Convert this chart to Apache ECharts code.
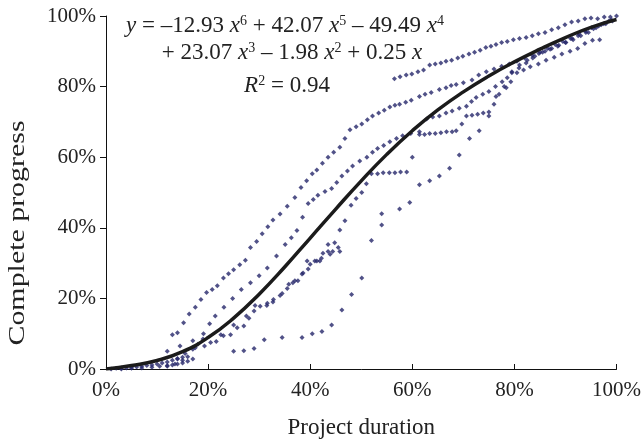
<!DOCTYPE html>
<html>
<head>
<meta charset="utf-8">
<script src="https://cdn.jsdelivr.net/npm/echarts@6/dist/echarts.min.js"></script>
<style>
  html, body { margin: 0; padding: 0; background: #fff; }
  #main { width: 644px; height: 444px; }
</style>
</head>
<body>
<div id="main"></div>
<script>
// 各项目的进度点 (x: 工期 %, y: 完成进度 %)
var projA = [[13,9.7],[14,10.3],[15.2,13.1],[16.3,15.6],[17.5,17.5],[18.6,19.7],[19.7,21.7],[20.8,22.5],[21.8,23.6],[23,25.8],[24,27],[25,28.1],[26.2,29.5],[27.3,30.8],[28.3,34.4],[29.5,36.1],[30.6,38.3],[31.7,40.3],[32.7,42.2],[34.1,43.9],[35.5,46.1],[37,48.6],[38.2,51.4],[39.3,53.3],[40.4,55.3],[41.3,56.4],[42.4,58.3],[43.5,60],[44.6,61.4],[45.8,62.8],[46.8,65.3],[47.8,67.8],[49,68.6],[50.1,69.4],[51.2,70.6],[52.2,71.7],[53.4,72.5],[54.5,73.3],[55.6,74.2],[56.6,74.7],[57.5,75],[58.7,75.6],[59.8,76.1],[61.4,77.2],[62.5,77.8],[63.7,78.3],[65.3,79.2],[66.6,79.7],[67.6,80.3],[68.6,80.6],[70,81.1],[71.7,81.9],[73,83.3],[74.5,84.2],[76,85],[77.5,85.8],[79,86.4],[80.5,87.2],[82,88.1],[83.5,88.9],[85,89.7],[86.5,90.8],[88,91.9],[89.5,92.8],[91,93.6],[92.5,94.4],[94,95.3],[95.5,96.4],[97,97.5],[98.5,98.6],[100,100]];
var projB = [[56.5,82.2],[57.6,82.8],[58.8,83.3],[59.9,83.6],[61.1,84.2],[62.2,84.7],[63.4,86.1],[64.5,86.4],[65.6,86.7],[66.6,87.2],[67.7,87.5],[68.9,88.1],[69.9,88.6],[71.1,89.2],[72.2,89.7],[73.3,90.3],[74.4,91.1],[75.4,91.4],[76.4,91.9],[77.5,92.5],[78.6,92.8],[79.8,93.3],[81,93.6],[82.3,93.9],[83.5,94.4],[84.7,95],[86,95.3],[87.3,96.1],[88.6,96.7],[89.9,97.5],[91.2,98.3],[92.5,98.6],[93.8,99.2],[95,99.4],[96.3,99.2],[97.6,99.7],[98.8,99.7]];
var projC = [[12,5],[14.5,6.5],[17,8],[19.1,10],[20.3,12.8],[21.4,15],[23.1,17.5],[24.8,20],[26.5,22.5],[28.3,24.4],[30,26.4],[31.6,28.6],[33.4,32],[35.1,35.3],[36.3,37.2],[37.4,39.2],[38.5,43],[39.6,46.9],[40.6,48],[41.5,49.2],[42.9,50.3],[44.2,51.1],[45.2,52.8],[46.2,54.7],[47.3,56.1],[48.3,57.5],[49.7,58.9],[51.1,60],[52.2,61.4],[53.2,62.5],[54.4,63.3],[55.6,64.4],[56.9,65.3],[58.1,66.1],[59.7,66.7],[61.4,67.2],[62.8,70.8],[64,71.4],[65.3,71.7],[66.6,72.5],[67.8,73.1],[69.2,73.9],[70.6,74.4],[71.6,75.8],[72.5,76.9],[73.8,77.8],[75,78.6],[76.3,80],[77.6,81.4],[78.6,82.5],[79.5,83.9],[80.9,85.3],[82.3,86.7],[83.6,88.1],[84.8,89.4],[86,90],[87.3,90.8],[88.7,91.7],[90.1,92.5],[91.3,93.6],[92.6,95],[93.9,95.8],[95.1,96.7],[96.5,97.2],[97.9,97.8],[99.2,98.6]];
var projD = [[25,5],[27,5.2],[29,5.8],[31,8.3],[34.5,8.9],[38.4,8.9],[40.4,10],[42.3,10.6],[44.2,12.5],[46.2,16.7],[48.1,21.1],[50.1,25.8],[52,36.4],[54,40.8],[54,44],[57.5,45.3],[59.5,47.2],[61.4,52.2],[63.4,53.3],[65.3,54.7],[67.3,56.9],[69.2,60.6],[71.2,65.3],[73.1,67.5],[75,71.7],[76.4,77.2],[78.4,79.7],[79.3,81.4],[80.5,83.9],[81.8,84.7],[83.1,85.6],[84.7,86.4],[86.2,87.5],[87.8,88.3],[89.3,89.2],[90.9,90],[92.4,90.8],[93.8,92.2],[95.3,93.1],[96.7,93.3]];
var projE = [[45.8,39.4],[46.8,42],[48,46.4],[49,48.3],[50.1,50],[51,52.5],[52,55.3],[53.2,55.3],[54.3,55.6],[55.5,55.6],[56.6,55.6],[57.7,55.8],[58.9,55.8],[60,60],[61.4,66.4],[62.4,66.4],[63.4,66.7],[64.5,66.7],[65.6,66.9],[66.7,67.2],[67.8,67.2],[68.6,67.5],[69.7,69.4],[70.6,71.7],[71.7,71.9],[72.8,72.2],[73.9,72.5],[75,72.8],[76,75],[77,77.8],[78,80],[79.5,84.2],[81,86.1],[82.5,87.5],[84,88.6],[85.5,89.7],[87,90.6],[88.5,91.4],[90,92.5],[91.5,93.3],[93,94.4],[94.5,95.3],[96,96.7],[97.5,97.8],[99,98.9]];
var projF = [[12,1],[13.5,1.4],[15,2.5],[16,3.5],[17,5.6],[18,7],[19.3,6.5],[20.5,7.5],[21.6,7.8],[23,9.4],[24.4,9.7],[25.7,11.7],[27,12.2],[28,14.4],[29,16.4],[30.2,17.8],[31.6,18.6],[32.8,19.7],[34.1,20.8],[35.5,22.8],[36.6,24.4],[37.6,25],[38.6,27.2],[40,29.7],[41.9,30.6],[43.9,32.5],[45.8,33.3]];
var projG = [[14,3],[15.5,4.4],[17.5,6],[19,8.5],[22.5,9.7],[25,12.5],[27.5,15],[29.2,18],[31.5,18],[32.7,19],[34.5,21.4],[35.8,24],[37,25],[38.4,26.9],[39.6,28.3],[40.9,30.6],[42.2,31.4],[43.5,33.3],[44.4,33.3],[45.5,34.4],[39.4,30.6],[41.3,30.6],[42.5,32.8],[43.5,35.3],[44.8,35.8]];
var projH = [[1,0],[2,0.2],[3,0.3],[4,0.3],[5,0.5],[6,0.6],[7,0.8],[8,1],[9,1.1],[10,1.4],[11,1.7],[12,2],[13,2.5],[14,2.8],[15,3.3],[3,0],[5,0.2],[7,0.3],[9,0.5],[10.5,0.8],[12,0.8],[13,1.1],[14,1.4],[15,1.7],[16,2.2],[17,2.8]];

// 多项式趋势线读数
var fitX = [0,5,10,15,20,25,30,35,40,45,50,55,60,65,70,75,80,85,90,95,100];
var fitY = [0,1.0,2.4,4.9,8.9,14.4,21.2,28.9,37.1,45.3,53.3,60.8,67.5,73.4,78.5,83.0,87.0,90.6,93.9,96.8,99];

var yTicks = ['0%','20%','40%','60%','80%','100%'];
var xTicks = ['0%','20%','40%','60%','80%','100%'];

var dom = document.getElementById("main");
var myChart = echarts.init(dom);
var font = 'Liberation Serif';
var dotColor = '#25276a';
var txtColor = '#222';

var fitData = fitX.map(function (x, i) { return [x, fitY[i]]; });

function dots(d) {
    return {
        type: 'scatter',
        data: d,
        symbol: 'diamond',
        symbolSize: 5,
        itemStyle: { color: dotColor },
        silent: true,
        z: 2
    };
}

var eqRich = {
    i: { fontStyle: 'italic', fontFamily: font, fontSize: 23, color: txtColor },
    s: { fontFamily: font, fontSize: 14, verticalAlign: 'top', color: txtColor }
};

function eqLine(txt, x, y) {
    return {
        type: 'text', x: x, y: y, z: 10,
        style: {
            text: txt, rich: eqRich, fontFamily: font, fontSize: 23, fill: txtColor,
            align: 'center', verticalAlign: 'middle'
        }
    };
}

var option = {
    animation: false,
    grid: { left: 106, right: 26, top: 16, bottom: 69 },
    xAxis: {
        type: 'value',
        min: 0, max: 100, interval: 20,
        name: 'Project duration',
        nameLocation: 'middle',
        nameGap: 47,
        nameTextStyle: { fontFamily: font, fontSize: 23, color: txtColor },
        axisLine: { lineStyle: { color: '#111', width: 1 } },
        axisTick: { inside: true, length: 5, lineStyle: { color: '#111' } },
        axisLabel: {
            fontFamily: font, fontSize: 21, color: txtColor, margin: 11,
            formatter: function (v) { return xTicks[v / 20]; }
        },
        splitLine: { show: false }
    },
    yAxis: {
        type: 'value',
        min: 0, max: 100, interval: 20,
        axisLine: { show: true, lineStyle: { color: '#111', width: 1 } },
        axisTick: { show: true, length: 6, lineStyle: { color: '#111' } },
        axisLabel: {
            fontFamily: font, fontSize: 21, color: txtColor, margin: 10,
            formatter: function (v) { return yTicks[v / 20]; }
        },
        splitLine: { show: false }
    },
    graphic: [
        // 纵轴标题 (原图中被拉长)
        {
            type: 'text', x: 18, y: 233, rotation: Math.PI / 2, scaleX: 1.3,
            style: {
                text: 'Complete progress', fontFamily: font, fontSize: 23, fill: txtColor,
                align: 'center', verticalAlign: 'middle'
            }
        },
        eqLine('{i|y} = –12.93 {i|x}{s|6} + 42.07 {i|x}{s|5} – 49.49 {i|x}{s|4}', 285, 26),
        eqLine('+ 23.07 {i|x}{s|3} – 1.98 {i|x}{s|2} + 0.25 {i|x}', 292, 53),
        eqLine('{i|R}{s|2} = 0.94', 287, 86)
    ],
    series: [
        dots(projA), dots(projB), dots(projC), dots(projD),
        dots(projE), dots(projF), dots(projG), dots(projH),
        {
            type: 'line',
            data: fitData,
            smooth: true,
            showSymbol: false,
            lineStyle: { color: '#1b1b1b', width: 3.5 },
            z: 3
        }
    ]
};

if (option && typeof option === "object") {
    myChart.setOption(option, true);
}
</script>
</body>
</html>
